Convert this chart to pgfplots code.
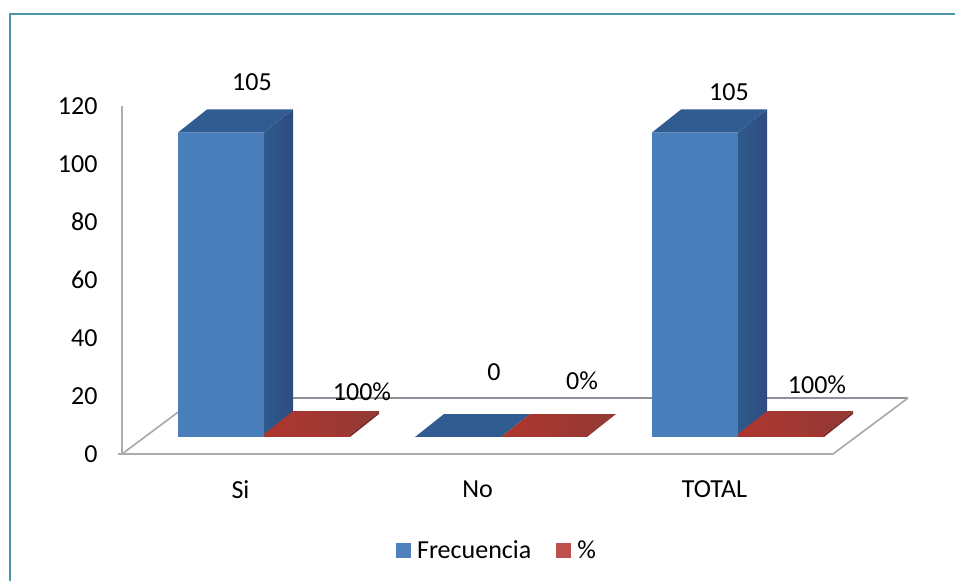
\documentclass[border=0pt]{standalone}
\usepackage{fontspec}
\setmainfont{Carlito}
\usepackage{pgfplots}
\usepackage{pgfplotstable}
\pgfplotsset{compat=1.18}

\definecolor{frameteal}{HTML}{4A96A8}
\definecolor{wallgray}{HTML}{ABABAF}
\definecolor{backgray}{HTML}{8F8F9A}
\definecolor{blueface}{HTML}{4A7EBB}
\definecolor{bluesidea}{HTML}{2E5A8C}
\definecolor{bluesideb}{HTML}{2F4C80}
\definecolor{bluetop}{HTML}{305C92}
\definecolor{redface}{HTML}{A8352E}
\definecolor{redside}{HTML}{7E2F2C}
\definecolor{redtopa}{HTML}{AE362E}
\definecolor{redtopb}{HTML}{923935}
\definecolor{legblue}{HTML}{4F81BD}
\definecolor{legred}{HTML}{C0504D}

% One row per category: x position of the bar, value
\pgfplotstableread{
x   value
221 105
458 0
695 105
}\frecuencia
\pgfplotstableread{
x   value
221 1
458 0
695 1
}\porcentaje

\newcommand{\chartfont}{\fontsize{26}{30}\selectfont}

\begin{document}
\begin{tikzpicture}[x=1pt,y=1pt]
\useasboundingbox (0,0) rectangle (955,581);
\draw[frameteal,line width=2pt] (9.5,0) -- (9.5,567) -- (955,567);

% Walls and floor, carrying the value scale
\begin{axis}[
  at={(122pt,127pt)},anchor=origin,
  scale only axis,width=711pt,height=348pt,
  xmin=122,xmax=833,ymin=0,ymax=120,
  clip=false,
  axis lines*=left,
  axis line style={wallgray,line width=2.6pt,-},
  xtick={240.5,477.5,714.5},
  xticklabels={Si,No,TOTAL},
  ytick={0,20,40,60,80,100,120},
  xtick style={draw=none},
  ytick style={draw=none},
  xticklabel style={font=\chartfont,yshift=-23pt},
  yticklabel style={font=\chartfont,xshift=-21pt},
  /pgf/number format/assume math mode=true,
]
\addplot[backgray,line width=1.2pt] coordinates {(197,19.31) (908,19.31)};
\addplot[wallgray,line width=1.7pt] coordinates {(122,0) (197,19.31)};
\addplot[wallgray,line width=1.7pt] coordinates {(833,0) (908,19.31)};
\addplot[wallgray,line width=2pt] coordinates {(118,0) (122,0)};
\end{axis}

% Bars, standing on a base line set further back than the front of the floor
\begin{axis}[
  at={(122pt,144pt)},anchor=origin,
  scale only axis,width=711pt,height=348pt,
  xmin=122,xmax=833,ymin=0,ymax=120,
  clip=false,
  hide axis,
  legend style={at={(axis cs:497,-39)},anchor=center,draw=none,fill=none,
    font=\chartfont,legend columns=2,inner sep=0pt,
    /tikz/every even column/.append style={column sep=23pt},
    /tikz/every odd column/.append style={column sep=4pt}},
  legend image code/.code={\fill[#1] (0pt,-7.5pt) rectangle (15pt,7.5pt);},
]
% Si
\addplot[ybar,bar width=86,bar shift=0,fill=blueface,draw=none,forget plot] table[x=x,y=value] {\frecuencia};
\addplot[left color=bluesidea,right color=bluesideb,draw=none,forget plot] coordinates {(264,0) (293,7.93) (293,112.93) (264,105)} -- cycle;
\addplot[fill=bluetop,draw=none,forget plot] coordinates {(178,105) (264,105) (293,112.93) (207,112.93)} -- cycle;
% No
\addplot[fill=bluetop,draw=none,forget plot] coordinates {(415,0) (501,0) (530,7.93) (444,7.93)} -- cycle;
% TOTAL
\addplot[left color=bluesidea,right color=bluesideb,draw=none,forget plot] coordinates {(738,0) (767,7.93) (767,112.93) (738,105)} -- cycle;
\addplot[fill=bluetop,draw=none,forget plot] coordinates {(652,105) (738,105) (767,112.93) (681,112.93)} -- cycle;
% Percentage bars
\addplot[ybar,bar width=86,bar shift=86,fill=redface,draw=none,forget plot] table[x=x,y=value] {\porcentaje};
\addplot[left color=redtopa,right color=redtopb,draw=none,forget plot] coordinates {(264,1) (350,1) (379,8.93) (293,8.93)} -- cycle;
\addplot[fill=redside,draw=none,forget plot] coordinates {(350,0) (379,7.93) (379,8.93) (350,1)} -- cycle;
\addplot[left color=redtopa,right color=redtopb,draw=none,forget plot] coordinates {(501,0) (587,0) (616,7.93) (530,7.93)} -- cycle;
\addplot[left color=redtopa,right color=redtopb,draw=none,forget plot] coordinates {(738,1) (824,1) (853,8.93) (767,8.93)} -- cycle;
\addplot[fill=redside,draw=none,forget plot] coordinates {(824,0) (853,7.93) (853,8.93) (824,1)} -- cycle;

% Legend swatches
\addplot[fill=legblue,draw=none] coordinates {(0,-100)};
\addlegendentry{Frecuencia}
\addplot[fill=legred,draw=none] coordinates {(0,-100)};
\addlegendentry{\%}

% Value labels
\node[font=\chartfont] at (axis cs:252,122.4) {105};
\node[font=\chartfont] at (axis cs:729,119) {105};
\node[font=\chartfont] at (axis cs:362,15.5) {100\%};
\node[font=\chartfont] at (axis cs:494,22.4) {0};
\node[font=\chartfont] at (axis cs:582,19.3) {0\%};
\node[font=\chartfont] at (axis cs:817,18) {100\%};
\end{axis}
\end{tikzpicture}
\end{document}
